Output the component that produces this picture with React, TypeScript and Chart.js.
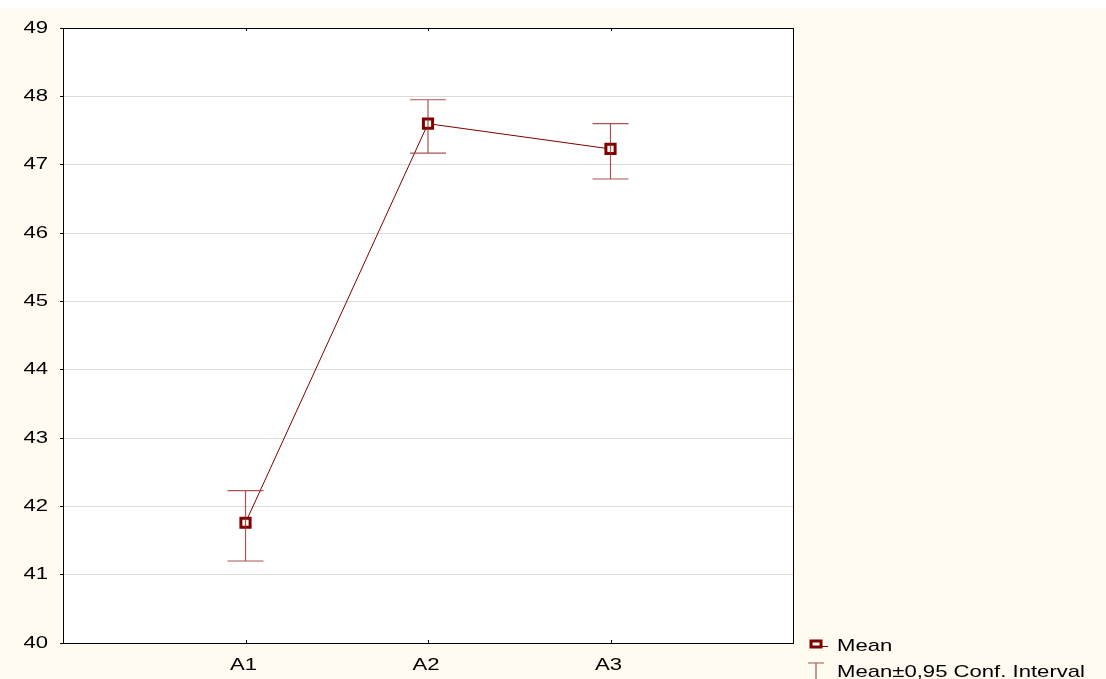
import React, { useEffect, useRef } from "react";
import { Chart, registerables } from "chart.js";

Chart.register(...registerables);

const categories = ["A1", "A2", "A3"];
const means = [41.76, 47.6, 47.23];
const ciLower = [41.2, 47.17, 46.79];
const ciUpper = [42.23, 47.95, 47.6];
const yTicks = [40, 41, 42, 43, 44, 45, 46, 47, 48, 49];
const legendLabels = ["Mean", "Mean\u00b10,95 Conf. Interval"];

const DARK = "#800000";
const ERR = "rgba(150,40,40,0.8)";
const FONT = "'Liberation Sans', Arial, sans-serif";
const STRETCH = 1.3;

function stretchedText(ctx: CanvasRenderingContext2D, text: string, x: number, y: number, align: CanvasTextAlign) {
  ctx.save();
  ctx.translate(x, y);
  ctx.scale(STRETCH, 1);
  ctx.textAlign = align;
  ctx.textBaseline = "alphabetic";
  ctx.fillText(text, 0, 0);
  ctx.restore();
}

export default function App() {
  const ref = useRef<HTMLCanvasElement | null>(null);

  useEffect(() => {
    if (!ref.current) return;
    const errPlugin = {
      id: "errbars",
      afterDatasetsDraw(chart: any) {
        const ctx = chart.ctx;
        const xs = chart.scales.x;
        const ys = chart.scales.y;
        const area = chart.chartArea;
        ctx.save();
        ctx.strokeStyle = "#000";
        ctx.lineWidth = 1;
        categories.forEach((_, i) => {
          const px = Math.round(xs.getPixelForValue(i + 1)) + 0.5;
          ctx.beginPath();
          ctx.moveTo(px, area.bottom);
          ctx.lineTo(px, area.bottom - 3);
          ctx.moveTo(px, area.top);
          ctx.lineTo(px, area.top + 3);
          ctx.stroke();
        });
        ctx.strokeStyle = ERR;
        ctx.lineWidth = 1.2;
        categories.forEach((_, i) => {
          const px = xs.getPixelForValue(i + 1);
          const lo = ys.getPixelForValue(ciLower[i]);
          const hi = ys.getPixelForValue(ciUpper[i]);
          const cap = 18;
          ctx.beginPath();
          ctx.moveTo(px, lo);
          ctx.lineTo(px, hi);
          ctx.moveTo(px - cap, lo);
          ctx.lineTo(px + cap, lo);
          ctx.moveTo(px - cap, hi);
          ctx.lineTo(px + cap, hi);
          ctx.stroke();
        });
        ctx.restore();
      },
      afterDraw(chart: any) {
        const ctx = chart.ctx;
        const xs = chart.scales.x;
        const ys = chart.scales.y;
        const area = chart.chartArea;
        ctx.save();
        ctx.fillStyle = "#000";
        ctx.font = `17px ${FONT}`;
        yTicks.forEach((v) => {
          const py = ys.getPixelForValue(v);
          stretchedText(ctx, String(v), area.left - 15, py + 4.5, "right");
        });
        categories.forEach((c, i) => {
          const px = xs.getPixelForValue(i + 1);
          stretchedText(ctx, c, px - 2, area.bottom + 27, "center");
        });
        const lx = area.right + 23;
        ctx.fillStyle = "#fff";
        ctx.strokeStyle = DARK;
        ctx.lineWidth = 3;
        ctx.fillRect(lx - 5, 633, 10, 6);
        ctx.strokeRect(lx - 5, 633, 10, 6);
        ctx.lineWidth = 1;
        ctx.beginPath();
        ctx.moveTo(lx + 6, 638.5);
        ctx.lineTo(lx + 12, 638.5);
        ctx.stroke();
        ctx.strokeStyle = ERR;
        ctx.lineWidth = 1.2;
        ctx.beginPath();
        ctx.moveTo(lx - 8, 655);
        ctx.lineTo(lx + 8, 655);
        ctx.moveTo(lx, 655);
        ctx.lineTo(lx, 675);
        ctx.stroke();
        ctx.fillStyle = "#000";
        stretchedText(ctx, legendLabels[0], lx + 21, 643, "left");
        stretchedText(ctx, legendLabels[1], lx + 21, 669, "left");
        ctx.restore();
      },
    };

    const chart = new Chart(ref.current, {
      type: "scatter",
      data: {
        datasets: [
          {
            label: legendLabels[0],
            data: means.map((m, i) => ({ x: i + 1, y: m })),
            showLine: true,
            borderColor: DARK,
            borderWidth: 1,
            pointStyle: "rect",
            pointRadius: 6.5,
            pointBorderWidth: 3,
            pointBackgroundColor: "#fff",
            pointBorderColor: DARK,
          },
        ],
      },
      options: {
        animation: false,
        responsive: false,
        layout: { padding: { top: 20, right: 313, bottom: 0, left: 0 } },
        plugins: { legend: { display: false }, tooltip: { enabled: false } },
        scales: {
          x: {
            type: "linear",
            min: 0,
            max: 4,
            afterBuildTicks: (s: any) => {
              s.ticks = [0, 1, 2, 3, 4].map((v) => ({ value: v }));
            },
            afterFit: (s: any) => {
              s.height = 36;
            },
            ticks: { display: false },
            grid: { display: false, drawTicks: false },
            border: { display: true, color: "#000", width: 1 },
          },
          y: {
            min: 40,
            max: 49,
            afterBuildTicks: (s: any) => {
              s.ticks = yTicks.map((v) => ({ value: v }));
            },
            afterFit: (s: any) => {
              s.width = 63;
            },
            ticks: { display: false },
            grid: { color: "#dcdcdc", tickLength: 3, tickColor: "#000" },
            border: { display: true, color: "#000", width: 1 },
          },
        },
      },
      plugins: [
        errPlugin,
        {
          id: "frame",
          beforeDraw(chart: any) {
            const ctx = chart.ctx;
            const a = chart.chartArea;
            ctx.save();
            ctx.fillStyle = "#FFFBF0";
            ctx.fillRect(0, 0, chart.width, chart.height);
            ctx.fillStyle = "#fff";
            ctx.fillRect(a.left, a.top, a.right - a.left, a.bottom - a.top);
            ctx.restore();
          },
          afterDraw(chart: any) {
            const ctx = chart.ctx;
            const a = chart.chartArea;
            ctx.save();
            ctx.strokeStyle = "#000";
            ctx.lineWidth = 1;
            ctx.strokeRect(Math.round(a.left) + 0.5, Math.round(a.top) + 0.5, Math.round(a.right - a.left), Math.round(a.bottom - a.top));
            ctx.restore();
          },
        },
      ],
    } as any);
    return () => chart.destroy();
  }, []);

  return (
    <div style={{ position: "absolute", left: 0, top: 8, width: 1106, height: 671 }}>
      <canvas ref={ref} width={1106} height={671} style={{ display: "block" }} />
    </div>
  );
}
